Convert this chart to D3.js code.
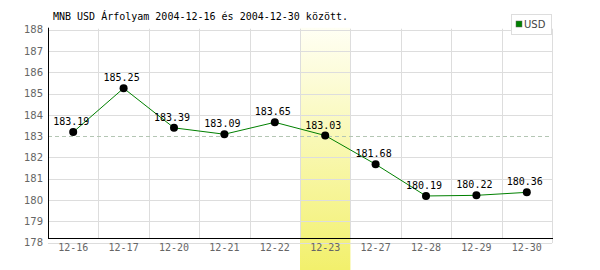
<!DOCTYPE html>
<html>
<head>
<meta charset="utf-8">
<script src="https://cdn.jsdelivr.net/npm/d3@7"></script>
<style>
  body { margin: 0; background: #fff; }
  svg { display: block; }
  text { font-family: "DejaVu Sans Mono", monospace; }
</style>
</head>
<body>
<svg id="chart" width="600" height="270"></svg>
<script>
// MNB USD rates, 2004-12-16 .. 2004-12-30
var dates = ["12-16", "12-17", "12-20", "12-21", "12-22", "12-23", "12-27", "12-28", "12-29", "12-30"];
var rates = [183.19, 185.25, 183.39, 183.09, 183.65, 183.03, 181.68, 180.19, 180.22, 180.36];
var yTicks = [178, 179, 180, 181, 182, 183, 184, 185, 186, 187, 188];
var highlightDate = "12-23";
var avgLine = 183;

var svg = d3.select("#chart");
var plotL = 48, plotR = 552, plotT = 29.7, plotB = 242.6, axisY = 238;

var x = d3.scaleBand().domain(dates).range([plotL, plotR]);
var y = d3.scaleLinear().domain([178, 188]).range([plotB, plotT]);

// highlighted day column
var grad = svg.append("defs").append("linearGradient")
  .attr("id", "hl").attr("x1", 0).attr("y1", 0).attr("x2", 0).attr("y2", 1);
grad.append("stop").attr("offset", "0%").attr("stop-color", "#fffff4");
grad.append("stop").attr("offset", "100%").attr("stop-color", "#f2f06c");
svg.append("rect")
  .attr("x", x(highlightDate)).attr("y", plotT - 2)
  .attr("width", x.bandwidth()).attr("height", 270 - plotT + 2)
  .attr("fill", "url(#hl)");

// horizontal grid + y labels
var yAxis = svg.append("g").attr("transform", "translate(" + plotL + ",0)")
  .call(d3.axisLeft(y).tickValues(yTicks).tickSize(0).tickPadding(5).tickFormat(d3.format("d")));
yAxis.select(".domain").remove();
yAxis.selectAll("text").attr("fill", "#666").style("font-size", "10px").style("font-family", "DejaVu Sans, sans-serif");
svg.append("g").selectAll("line").data(yTicks.filter(function(d) { return d !== avgLine; })).enter().append("line")
  .attr("x1", plotL).attr("x2", plotR)
  .attr("y1", function(d) { return Math.round(y(d)) + 0.5; })
  .attr("y2", function(d) { return Math.round(y(d)) + 0.5; })
  .attr("stroke", "#dddddd");

// vertical grid
svg.append("g").selectAll("line").data(dates.slice(1)).enter().append("line")
  .attr("x1", function(d) { return Math.round(x(d)) + 0.5; })
  .attr("x2", function(d) { return Math.round(x(d)) + 0.5; })
  .attr("y1", plotT - 1).attr("y2", axisY)
  .attr("stroke", "#dddddd");
svg.append("line")
  .attr("x1", plotR + 0.5).attr("x2", plotR + 0.5)
  .attr("y1", plotT - 1).attr("y2", plotB + 0.5)
  .attr("stroke", "#dddddd");

// dashed reference line
svg.append("line")
  .attr("x1", plotL).attr("x2", plotR)
  .attr("y1", Math.round(y(avgLine)) + 0.5).attr("y2", Math.round(y(avgLine)) + 0.5)
  .attr("stroke", "#b4c6b4").attr("stroke-dasharray", "4,3");

// x labels
var xAxis = svg.append("g").attr("transform", "translate(0," + axisY + ")")
  .call(d3.axisBottom(x).tickSize(0).tickPadding(6));
xAxis.select(".domain").remove();
xAxis.selectAll("text").attr("fill", "#666").style("font-size", "10px").style("font-family", "DejaVu Sans Mono, monospace");

// black axis lines
svg.append("line").attr("x1", plotL + 0.5).attr("x2", plotL + 0.5).attr("y1", plotT - 2).attr("y2", axisY + 0.5)
  .attr("stroke", "#000");
svg.append("line").attr("x1", plotL).attr("x2", plotR + 1).attr("y1", axisY + 0.5).attr("y2", axisY + 0.5)
  .attr("stroke", "#000");

// series
var line = d3.line()
  .x(function(d, i) { return x(dates[i]) + x.bandwidth() / 2; })
  .y(function(d) { return y(d); });
svg.append("path").datum(rates)
  .attr("d", line).attr("fill", "none").attr("stroke", "#008000").attr("stroke-width", 1);
svg.append("g").selectAll("circle").data(rates).enter().append("circle")
  .attr("cx", function(d, i) { return x(dates[i]) + x.bandwidth() / 2; })
  .attr("cy", function(d) { return y(d); })
  .attr("r", 4).attr("fill", "#000");
svg.append("g").selectAll("text").data(rates).enter().append("text")
  .attr("x", function(d, i) { return x(dates[i]) + x.bandwidth() / 2 - 2; })
  .attr("y", function(d) { return y(d) - 7; })
  .attr("text-anchor", "middle").attr("fill", "#000").style("font-size", "10px")
  .text(function(d) { return d.toFixed(2); });

// title
svg.append("text").attr("x", 53).attr("y", 20).attr("fill", "#000").style("font-size", "10px")
  .text("MNB USD Árfolyam 2004-12-16 és 2004-12-30 között.");

// legend
var lg = svg.append("g");
lg.append("rect").attr("x", 511.5).attr("y", 14.5).attr("width", 40).attr("height", 20)
  .attr("fill", "#fff").attr("stroke", "#dddddd");
lg.append("rect").attr("x", 516).attr("y", 21).attr("width", 6).attr("height", 6)
  .attr("fill", "#008000").attr("stroke", "#666").attr("stroke-width", 0.5);
lg.append("text").attr("x", 524).attr("y", 28).attr("fill", "#444")
  .style("font-size", "10px").style("font-family", "DejaVu Sans, sans-serif").text("USD");
</script>
</body>
</html>
